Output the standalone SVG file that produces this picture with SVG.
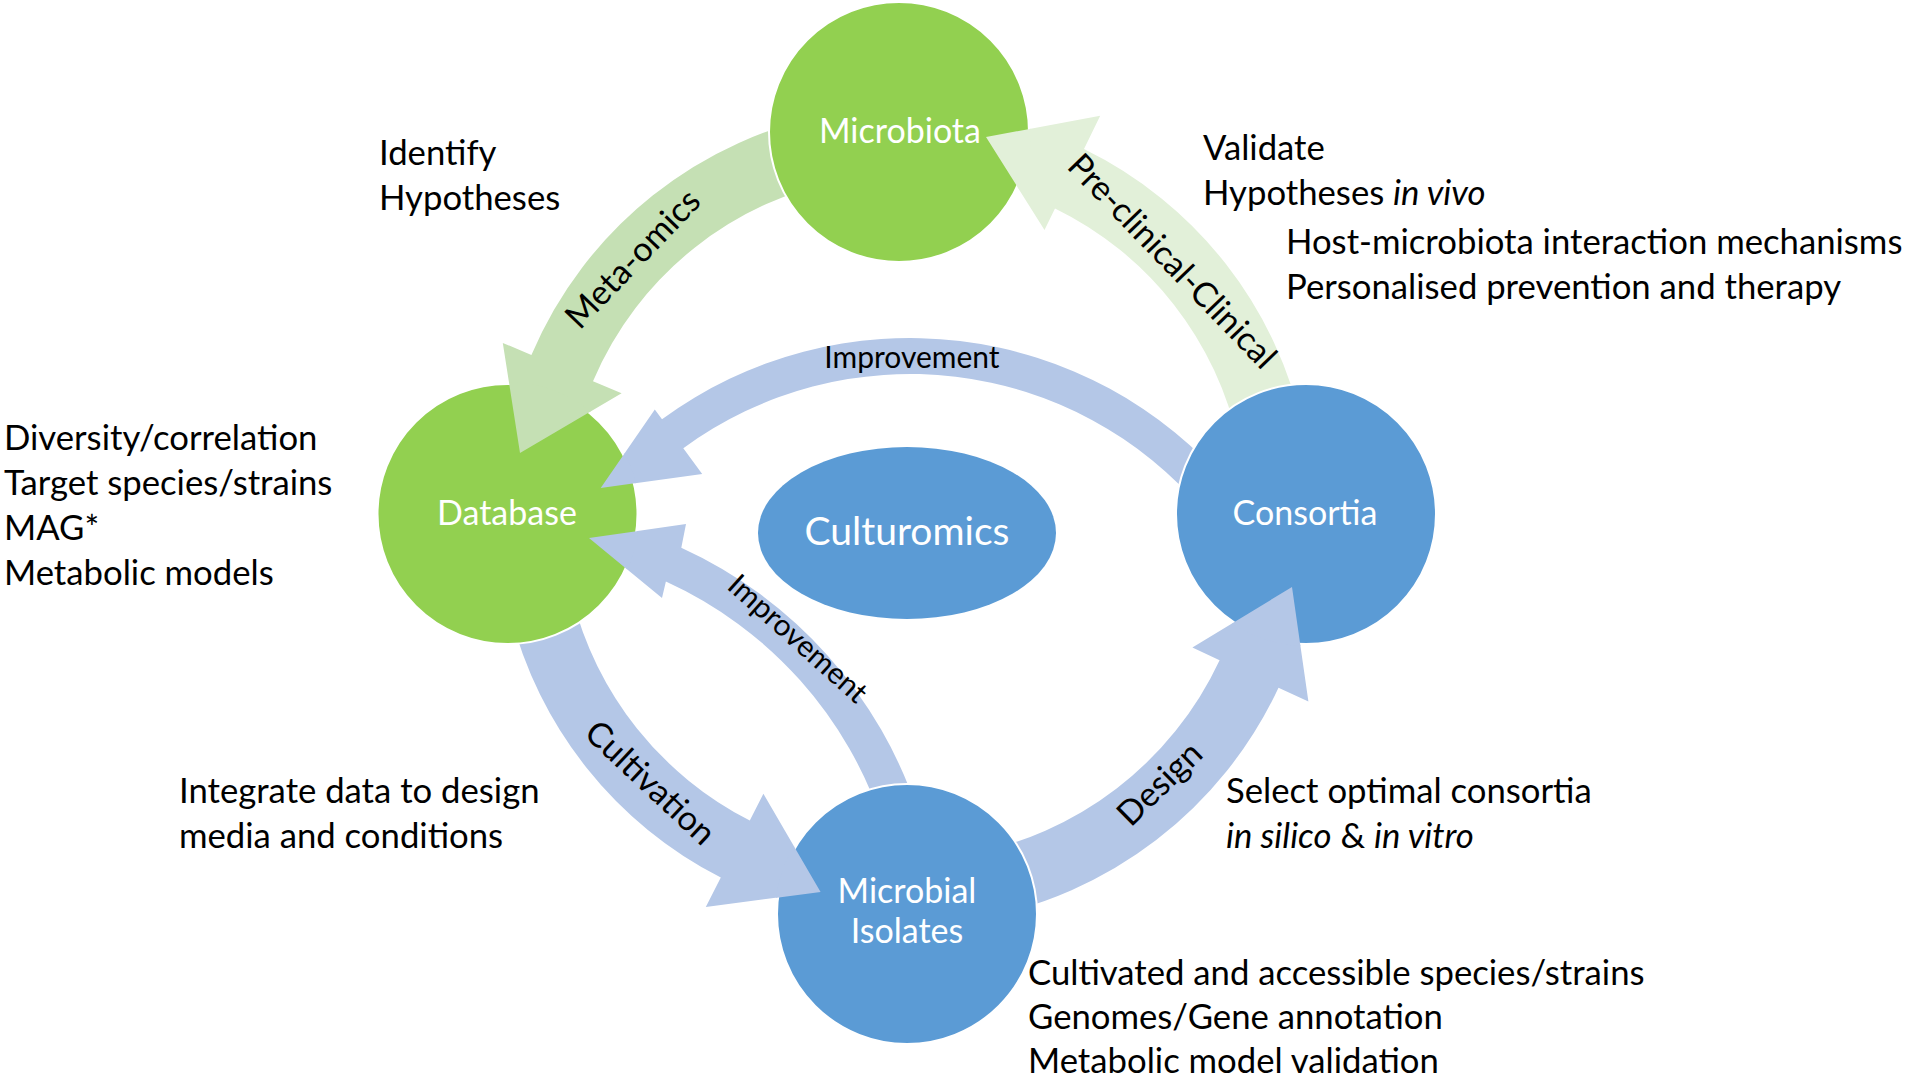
<svg xmlns="http://www.w3.org/2000/svg" width="1910" height="1081" viewBox="0 0 1910 1081">
<style>
.t{font-family:Lato,"Open Sans","Liberation Sans",sans-serif;font-size:34px;fill:#000}
.n{font-size:34.7px}
.w{fill:#fff;text-anchor:middle}
.m{text-anchor:middle}
.i{font-style:italic}
.s{font-size:30px}
.g{fill:#92D050;stroke:#fff;stroke-width:2}
.b{fill:#5B9BD5;stroke:#fff;stroke-width:2}
.ab{fill:#B4C7E7}
.ag1{fill:#C5E0B4}
.ag2{fill:#E2F0D9}
</style>
<defs>
<path id="aMeta" d="M835.3,113.2 A407,407 0 0 0 531.4,355.0 L502.8,342.9 L520,453 L621.6,393.3 L593.0,381.2 A340,340 0 0 1 847.0,179.2 Z"/>
<path id="aPre" d="M1303.1,429.6 A406,406 0 0 0 1084.0,149.1 L1100.2,115.8 L986,137 L1044.5,230.0 L1055.0,208.4 A340,340 0 0 1 1238.6,443.3 Z"/>
<path id="aDesign" d="M977.4,918.8 A411,411 0 0 0 1278.5,687.7 L1308.4,701.6 L1292,587 L1192.4,647.5 L1219.6,660.2 A346,346 0 0 1 966.1,854.7 Z"/>
<path id="aCult" d="M510.1,612.7 A408,408 0 0 0 720.8,877.5 L705.8,906.9 L820.6,892 L763.4,793.8 L749.8,820.5 A344,344 0 0 1 572.2,597.2 Z"/>
<path id="aImpTop" d="M1231.0,487.7 A419,419 0 0 0 662.0,419.3 L654.8,409.6 L600.7,488 L702.2,474.1 L683.3,448.3 A383,383 0 0 1 1203.4,510.8 Z"/>
<path id="aImpLow" d="M918.4,813.4 A442,442 0 0 0 681.3,547.8 L686,524 L589,538 L662,598 L665.9,581.5 A405,405 0 0 1 883.2,824.8 Z"/>
<clipPath id="cDB"><circle cx="507.5" cy="514" r="132"/></clipPath>
<clipPath id="cMB"><circle cx="899" cy="132" r="132"/></clipPath>
<clipPath id="cCO"><circle cx="1306" cy="514" r="132"/></clipPath>
<clipPath id="cMI"><circle cx="907" cy="914" r="132"/></clipPath>
</defs>
<rect width="1910" height="1081" fill="#fff"/>
<g id="connectors">
<use href="#aMeta" class="ag1"/>
<use href="#aPre" class="ag2"/>
<use href="#aDesign" class="ab"/>
<use href="#aCult" class="ab"/>
<use href="#aImpTop" class="ab"/>
<use href="#aImpLow" class="ab"/>
</g>
<g id="node-microbiota"><circle class="g" cx="899" cy="132" r="130"/><text class="t w" x="900" y="143">Microbiota</text></g>
<g id="node-database"><circle class="g" cx="507.5" cy="514" r="130"/><text class="t w" x="507" y="525">Database</text></g>
<g id="node-consortia"><circle class="b" cx="1306" cy="514" r="130"/><text class="t w" x="1305" y="525">Consortia</text></g>
<g id="node-isolates"><circle class="b" cx="907" cy="914" r="130"/><text class="t w" x="907" y="903">Microbial</text><text class="t w" x="907" y="943">Isolates</text></g>
<g id="node-culturomics"><ellipse cx="907" cy="533" rx="149" ry="86" fill="#5B9BD5"/><text class="t w" x="907" y="545" style="font-size:39px">Culturomics</text></g>
<g id="connector-heads">
<use href="#aMeta" class="ag1" clip-path="url(#cDB)"/>
<use href="#aPre" class="ag2" clip-path="url(#cMB)"/>
<use href="#aDesign" class="ab" clip-path="url(#cCO)"/>
<use href="#aCult" class="ab" clip-path="url(#cMI)"/>
<use href="#aImpTop" class="ab" clip-path="url(#cDB)"/>
<use href="#aImpLow" class="ab" clip-path="url(#cDB)"/>
</g>
<g id="connector-labels">
<text class="t m" transform="translate(641.1,266.8) rotate(-46.2)">Meta-omics</text>
<text class="t m" transform="translate(1163.9,269.2) rotate(46)">Pre-clinical-Clinical</text>
<text class="t m" transform="translate(642.5,791.2) rotate(43.1)">Cultivation</text>
<text class="t m" transform="translate(1167.6,791.9) rotate(-44.3)">Design</text>
<text class="t m s" x="912" y="368">Improvement</text>
<text class="t m s" transform="translate(791,646.3) rotate(41.8)">Improvement</text>
</g>
<g id="annotations">
<text class="t n" x="379" y="165">Identify</text>
<text class="t n" x="379" y="210">Hypotheses</text>
<text class="t n" x="1203" y="160">Validate</text>
<text class="t n" x="1203" y="205">Hypotheses <tspan class="i">in vivo</tspan></text>
<text class="t n" x="1286" y="254">Host-microbiota interaction mechanisms</text>
<text class="t n" x="1286" y="299">Personalised prevention and therapy</text>
<text class="t n" x="4" y="450">Diversity/correlation</text>
<text class="t n" x="4" y="495">Target species/strains</text>
<text class="t n" x="4" y="540">MAG*</text>
<text class="t n" x="4" y="585">Metabolic models</text>
<text class="t n" x="179" y="803">Integrate data to design</text>
<text class="t n" x="179" y="848">media and conditions</text>
<text class="t n" x="1226" y="803">Select optimal consortia</text>
<text class="t n" x="1226" y="848"><tspan class="i">in silico</tspan> &amp; <tspan class="i">in vitro</tspan></text>
<text class="t n" x="1028" y="985">Cultivated and accessible species/strains</text>
<text class="t n" x="1028" y="1029">Genomes/Gene annotation</text>
<text class="t n" x="1028" y="1073">Metabolic model validation</text>
</g>
</svg>
